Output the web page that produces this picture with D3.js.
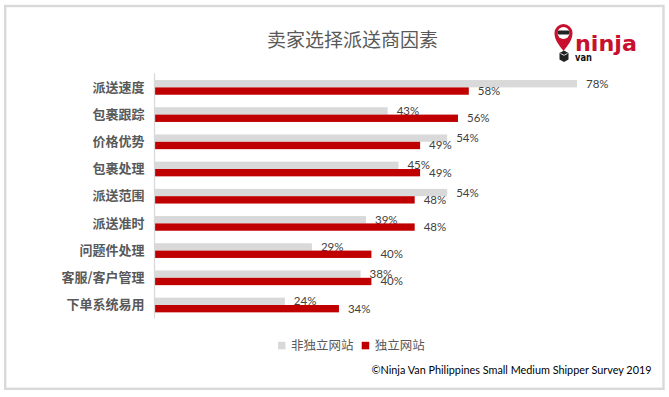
<!DOCTYPE html>
<html><head><meta charset="utf-8">
<script src="https://cdn.jsdelivr.net/npm/d3@7"></script>
<style>body{margin:0;background:#fff}svg{display:block}</style>
</head><body>
<script>
const categories = ["派送速度","包裹跟踪","价格优势","包裹处理","派送范围","派送准时","问题件处理","客服/客户管理","下单系统易用"];
const nonIndependent = [78,43,54,45,54,39,29,38,24];
const independent = [58,56,49,49,48,48,40,40,34];
const seriesNames = ["非独立网站","独立网站"];
const seriesColors = ["#d9d9d9","#c00000"];
const titleText = "卖家选择派送商因素";
const footerText = "©Ninja Van Philippines Small Medium Shipper Survey 2019";

const W = 669, H = 397;
const svg = d3.select("body").append("svg").attr("width", W).attr("height", H);
const cjk = "'Noto Sans CJK SC', 'Noto Sans', sans-serif";

svg.append("rect").attr("x",5.2).attr("y",6).attr("width",658.3).attr("height",382.8)
  .attr("fill","#fff").attr("stroke","#d9d9d9").attr("stroke-width",2.4);

svg.append("text").attr("x",352.5).attr("y",47).attr("text-anchor","middle")
  .attr("font-family",cjk).attr("font-size",19).attr("fill","#595959").text(titleText);

const x = d3.scaleLinear().domain([0,78]).range([155,577]);
const y = d3.scaleBand().domain(categories).range([73.8,318.6]).paddingInner(0.46).paddingOuter(0.23);
const sub = d3.scaleBand().domain([0,1]).range([0,y.bandwidth()]);

const data = categories.map((c,i)=>({c, v:[nonIndependent[i], independent[i]]}));

const g = svg.append("g");
data.forEach(d=>{
  d.v.forEach((v,j)=>{
    g.append("rect").attr("x",x(0)).attr("y",y(d.c)+sub(j))
      .attr("width",x(v)-x(0)).attr("height",sub.bandwidth()).attr("fill",seriesColors[j]);
    g.append("text").attr("x",x(v)+9).attr("y",y(d.c)+sub(j)+sub.bandwidth()/2)
      .attr("dy","0.35em").attr("font-family","Lato, 'Open Sans', sans-serif").attr("font-size",11.5)
      .attr("fill","#404040").text(v+"%");
  });
});

// axis
const yAxis = d3.axisLeft(y).tickSize(0).tickPadding(10);
const ax = svg.append("g").attr("transform","translate(154.5,0)").call(yAxis);
ax.select(".domain").attr("stroke","#d9d9d9").attr("stroke-width",1.3)
  .attr("d","M0,73.3V318.6");
ax.selectAll("text").attr("font-family",cjk).attr("font-size",13).attr("font-weight","bold")
  .attr("fill","#595959");

// legend
const lx = [278, 361.7];
seriesNames.forEach((n,i)=>{
  svg.append("rect").attr("x",lx[i]).attr("y",341.8).attr("width",7.5).attr("height",7.5).attr("fill",seriesColors[i]);
  svg.append("text").attr("x",lx[i]+13).attr("y",345.6).attr("dy","0.35em")
    .attr("font-family",cjk).attr("font-size",12.5).attr("fill","#595959").text(n);
});

// footer
svg.append("text").attr("x",651.5).attr("y",374).attr("text-anchor","end")
  .attr("font-family","Lato, 'Open Sans', sans-serif").attr("font-size",11)
  .attr("textLength",280).attr("lengthAdjust","spacingAndGlyphs")
  .attr("fill","#000").text(footerText);

// logo
const logo = svg.append("g");
logo.append("path").attr("d","M563.5,51 C559,45 554.5,40 554.5,33 A9,9 0 0 1 572.5,33 C572.5,40 568,45 563.5,51Z").attr("fill","#c8102e");
logo.append("circle").attr("cx",563.5).attr("cy",33).attr("r",6).attr("fill","#fff");
logo.append("rect").attr("x",557.5).attr("y",30.5).attr("width",12).attr("height",4).attr("rx",1.5).attr("fill","#222");
logo.append("path").attr("d","M559.5,53 L564,50.5 L568.5,53 L568.5,59.5 L564,62 L559.5,59.5Z").attr("fill","#222");
logo.append("path").attr("d","M560.5,53.5 L564,55.3 L567.5,53.5").attr("fill","none").attr("stroke","#fff").attr("stroke-width",0.8);
logo.append("text").attr("x",575).attr("y",50.5).attr("font-family","'DejaVu Sans', sans-serif")
  .attr("font-weight","bold").attr("font-size",22).attr("textLength",62).attr("lengthAdjust","spacingAndGlyphs")
  .attr("fill","#c8102e").text("ninja");
logo.append("text").attr("x",575).attr("y",60.5).attr("font-family","'DejaVu Sans', sans-serif")
  .attr("font-weight","bold").attr("font-size",11).attr("textLength",17).attr("lengthAdjust","spacingAndGlyphs")
  .attr("fill","#111").text("van");
</script>
</body></html>
